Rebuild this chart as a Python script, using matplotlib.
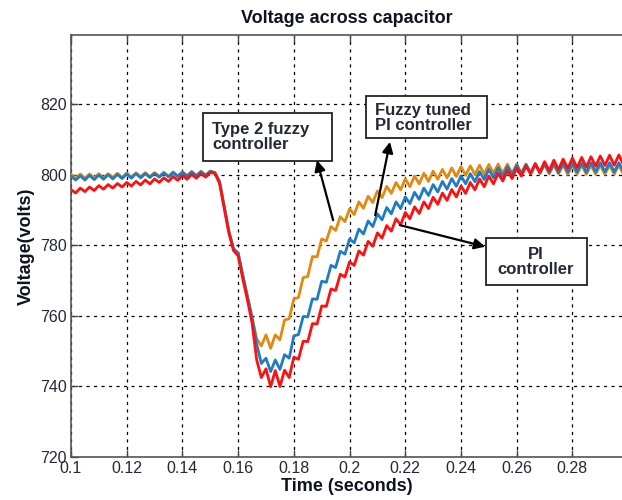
import numpy as np
import matplotlib
matplotlib.use("Agg")
import matplotlib.pyplot as plt
from matplotlib.patches import Rectangle

plt.rcParams['font.family'] = ['Liberation Sans', 'DejaVu Sans']

# --- data (sampled every half ripple period, 1/600 s, from t = 0.1 s) ---
t_start = 0.1
t_step = 1.0 / 600.0

type2_fuzzy = [
    800.1, 798.9, 800.2, 799.0, 800.2, 799.1, 800.3, 799.1, 800.3, 799.2,
    800.4, 799.2, 800.5, 799.3, 800.5, 799.4, 800.6, 799.4, 800.6, 799.5,
    800.7, 799.5, 800.8, 799.6, 800.8, 799.7, 800.9, 799.7, 800.9, 799.8,
    801.0, 800.6, 798.0, 791.0, 784.0, 779.0, 777.8, 771.5, 765.5, 759.5,
    753.5, 751.5, 754.6, 750.8, 754.6, 753.2, 758.8, 759.2, 764.8, 765.2,
    770.8, 771.2, 776.8, 776.7, 781.8, 781.2, 785.3, 784.2, 788.1, 786.7,
    790.3, 788.7, 792.3, 790.5, 793.9, 792.1, 795.4, 793.5, 796.7, 794.7,
    797.8, 795.7, 798.8, 796.6, 799.6, 797.4, 800.4, 798.1, 801.0, 798.7,
    801.5, 799.1, 801.9, 799.5, 802.3, 799.8, 802.5, 800.0, 802.7, 800.2,
    802.9, 800.4, 803.0, 800.4, 803.0, 800.4, 803.0, 800.4, 803.0, 800.4,
    803.0, 800.3, 802.9, 800.2, 802.8, 800.2, 802.8, 800.1, 802.7, 800.1,
    802.7, 800.1, 802.7, 800.1, 802.7, 800.1, 802.7, 800.1, 802.7, 800.1,
]

fuzzy_tuned_pi = [
    799.6, 798.5, 799.7, 798.5, 799.8, 798.6, 799.9, 798.7, 800.0, 798.8,
    800.1, 798.9, 800.2, 799.0, 800.3, 799.1, 800.3, 799.2, 800.4, 799.3,
    800.5, 799.4, 800.6, 799.5, 800.7, 799.6, 800.8, 799.7, 800.9, 799.8,
    801.0, 800.6, 798.0, 791.0, 784.0, 779.0, 777.8, 771.5, 765.5, 759.5,
    752.0, 746.5, 748.0, 744.2, 747.5, 744.8, 749.0, 748.0, 754.3, 754.7,
    759.8, 759.7, 764.8, 764.7, 769.8, 769.5, 774.3, 773.7, 778.3, 777.5,
    781.8, 780.7, 784.6, 783.2, 786.9, 785.3, 788.9, 787.2, 790.7, 788.9,
    792.3, 790.4, 793.7, 791.8, 795.0, 793.0, 796.2, 794.1, 797.2, 795.1,
    798.1, 795.9, 798.9, 796.7, 799.7, 797.4, 800.3, 798.0, 800.9, 798.6,
    801.5, 799.1, 801.9, 799.5, 802.3, 799.9, 802.7, 800.2, 802.9, 800.4,
    803.1, 800.5, 803.2, 800.6, 803.2, 800.6, 803.3, 800.7, 803.3, 800.7,
    803.3, 800.7, 803.4, 800.8, 803.4, 800.8, 803.4, 800.8, 803.4, 800.8,
]

pi_controller = [
    795.8, 794.8, 796.2, 795.2, 796.5, 795.5, 796.9, 795.9, 797.2, 796.2,
    797.5, 796.5, 797.8, 796.8, 798.1, 797.1, 798.5, 797.4, 798.8, 797.8,
    799.1, 798.1, 799.5, 798.4, 799.8, 798.7, 800.1, 799.0, 800.3, 799.3,
    800.6, 800.4, 797.5, 790.5, 783.5, 778.5, 777.0, 770.5, 764.5, 758.0,
    747.5, 742.5, 745.0, 739.9, 744.5, 740.0, 744.6, 742.5, 748.3, 747.7,
    752.8, 752.7, 757.8, 757.7, 762.8, 762.7, 767.6, 767.2, 771.8, 771.0,
    775.3, 774.3, 778.4, 777.2, 781.1, 779.7, 783.5, 782.0, 785.6, 784.0,
    787.5, 785.8, 789.3, 787.5, 790.9, 789.0, 792.3, 790.4, 793.6, 791.6,
    794.8, 792.7, 795.8, 793.7, 796.8, 794.7, 797.8, 795.7, 798.8, 796.6,
    799.6, 797.4, 800.4, 798.2, 801.2, 798.9, 801.9, 799.6, 802.5, 800.2,
    803.1, 800.7, 803.7, 801.1, 804.1, 801.5, 804.4, 801.8, 804.7, 802.0,
    804.9, 802.2, 805.1, 802.4, 805.3, 802.6, 805.5, 802.7, 805.6, 802.8,
]

x_ticks = [0.1, 0.12, 0.14, 0.16, 0.18, 0.2, 0.22, 0.24, 0.26, 0.28]
x_tick_labels = ['0.1', '0.12', '0.14', '0.16', '0.18', '0.2', '0.22', '0.24', '0.26', '0.28']
y_ticks = [720, 740, 760, 780, 800, 820]
y_tick_labels = ['720', '740', '760', '780', '800', '820']

title_text = 'Voltage across capacitor'
x_label = 'Time (seconds)'
y_label = 'Voltage(volts)'
label_type2 = 'Type 2 fuzzy\ncontroller'
label_ftpi = 'Fuzzy tuned\nPI controller'
label_pi = 'PI\ncontroller'

# --- figure ---
W, H = 622, 500
fig = plt.figure(figsize=(W / 100, H / 100), dpi=100)
ax = fig.add_axes([71 / W, (H - 457) / H, (W - 71) / W, (457 - 35.3) / H])

t = t_start + np.arange(len(type2_fuzzy)) * t_step

line_kw = dict(lw=2.0, solid_joinstyle='round', solid_capstyle='round')
ax.plot(t, type2_fuzzy, color='#E08A10', zorder=3, **line_kw)
ax.plot(t, fuzzy_tuned_pi, color='#1F7CC4', zorder=4, **line_kw)
ax.plot(t, pi_controller, color='#FF1010', zorder=5, **line_kw)

ax.set_xlim(0.1, 0.2978)
ax.set_ylim(720, 839.5)
ax.set_xticks(x_ticks)
ax.set_xticklabels(x_tick_labels)
ax.set_yticks(y_ticks)
ax.set_yticklabels(y_tick_labels)

txtcol = '#262638'
ax.tick_params(direction='in', length=5, width=1, top=True, right=False,
               labelsize=11.5, labelcolor=txtcol, colors='#444444', pad=3)
for sp in ['left', 'bottom', 'top']:
    ax.spines[sp].set_color('#555555')
    ax.spines[sp].set_linewidth(1.2)
ax.spines['right'].set_visible(False)

ax.grid(True, color='black', linestyle=(0, (2.5, 3.5)), linewidth=0.9)
ax.set_axisbelow(True)

ax.set_title(title_text, fontsize=13, fontweight='bold', color='#111122', pad=9)
ax.set_xlabel(x_label, fontsize=13, fontweight='bold', color='#111122', labelpad=1)
ax.set_ylabel(y_label, fontsize=13, fontweight='bold', color='#111122', labelpad=4)

# --- annotation boxes ---
def box(x0, y0, x1, y1):
    ax.add_patch(Rectangle((x0, y0), x1 - x0, y1 - y0, facecolor='white',
                           edgecolor='#222222', lw=1.3, zorder=6))

box(0.1474, 803.9, 0.1937, 817.5)
ax.text(0.1506, 810.8, label_type2, ha='left', va='center', fontsize=12,
        fontweight='bold', color=txtcol, linespacing=1.0, zorder=7)

box(0.2058, 810.3, 0.2494, 822.3)
ax.text(0.2092, 816.2, label_ftpi, ha='left', va='center', fontsize=12,
        fontweight='bold', color=txtcol, linespacing=1.0, zorder=7)

box(0.2490, 768.7, 0.2852, 782.2)
ax.text(0.2668, 775.4, label_pi, ha='center', va='center', multialignment='center',
        fontsize=12, fontweight='bold', color=txtcol, linespacing=1.0, zorder=7)

arrow = dict(arrowstyle='-|>', color='black', lw=1.6, mutation_scale=16,
             shrinkA=0, shrinkB=0)
ax.annotate('', xy=(0.1883, 804.1), xytext=(0.1941, 787.1), arrowprops=arrow, zorder=8)
ax.annotate('', xy=(0.2145, 809.3), xytext=(0.2092, 788.5), arrowprops=arrow, zorder=8)
ax.annotate('', xy=(0.2487, 779.6), xytext=(0.2181, 785.7), arrowprops=arrow, zorder=8)

fig.savefig('out.png', dpi=100)
